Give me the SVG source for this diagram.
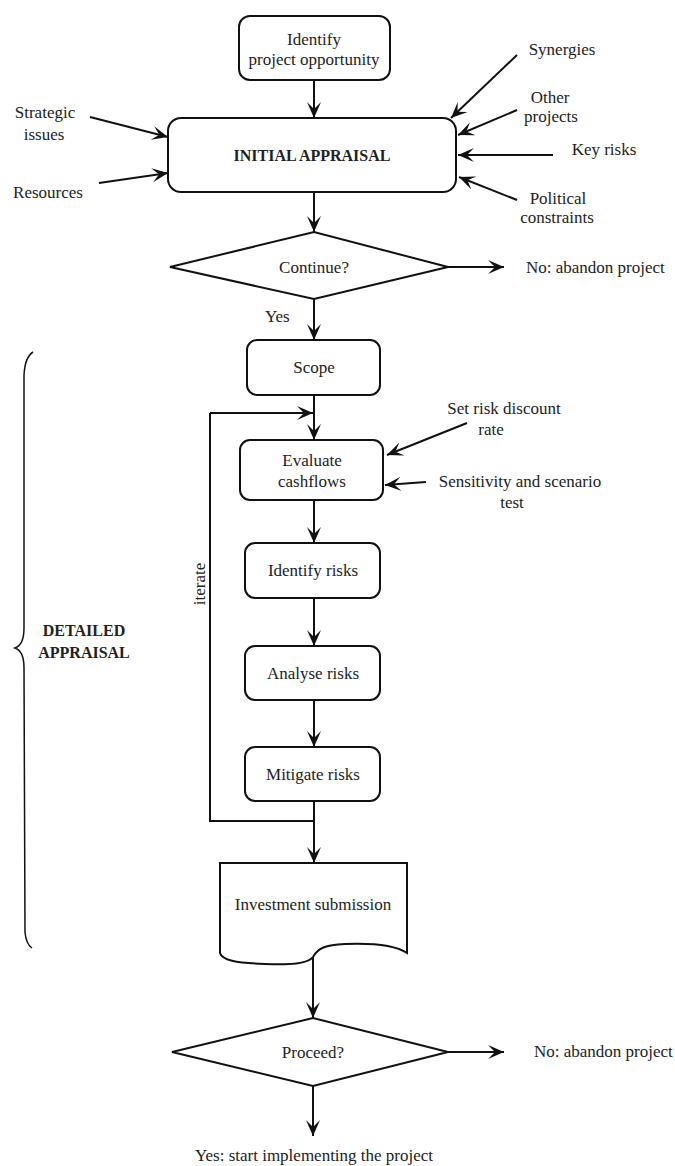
<svg xmlns="http://www.w3.org/2000/svg" width="675" height="1166" viewBox="0 0 675 1166">
<style>
  .box { fill: #fff; stroke: #111; stroke-width: 2; }
  .ln { fill: none; stroke: #111; stroke-width: 2; }
  .arr { fill: none; stroke: #111; stroke-width: 2; marker-end: url(#ah); }
  .t { font-family: "Liberation Serif", "Times New Roman", serif; font-size: 17px; fill: #222; }
  .c { text-anchor: middle; }
  .b { font-weight: bold; font-size: 16px; }
</style>
<defs>
  <marker id="ah" markerUnits="userSpaceOnUse" markerWidth="18" markerHeight="16" refX="16" refY="7" orient="auto">
    <path d="M0,0 L16,7 L0,14 L7,7 Z" fill="#111"/>
  </marker>
</defs>
<rect width="675" height="1166" fill="#fff"/>

<g id="connectors">
  <line class="arr" x1="314" y1="80" x2="314" y2="118"/>
  <line class="arr" x1="90" y1="117" x2="168" y2="137"/>
  <line class="arr" x1="99" y1="183" x2="168" y2="173"/>
  <line class="arr" x1="517" y1="55" x2="451" y2="118"/>
  <line class="arr" x1="517" y1="110" x2="458" y2="135"/>
  <line class="arr" x1="553" y1="155" x2="458" y2="155"/>
  <line class="arr" x1="517" y1="200" x2="459" y2="177"/>
  <line class="arr" x1="314" y1="192" x2="314" y2="232"/>
  <line class="arr" x1="448" y1="267" x2="504" y2="267"/>
  <line class="arr" x1="314" y1="299" x2="314" y2="340"/>
  <line class="arr" x1="314" y1="395" x2="314" y2="440"/>
  <polyline class="ln" points="314,821 210,821 210,413"/>
  <line class="arr" x1="210" y1="413" x2="313" y2="413"/>
  <line class="arr" x1="467" y1="423" x2="387" y2="455"/>
  <line class="arr" x1="426" y1="482" x2="385" y2="485"/>
  <line class="arr" x1="314" y1="500" x2="314" y2="543"/>
  <line class="arr" x1="314" y1="598" x2="314" y2="646"/>
  <line class="arr" x1="314" y1="700" x2="314" y2="747"/>
  <line class="arr" x1="314" y1="801" x2="314" y2="863"/>
  <line class="arr" x1="313" y1="957" x2="313" y2="1018"/>
  <line class="arr" x1="448" y1="1052" x2="504" y2="1052"/>
  <line class="arr" x1="313" y1="1086" x2="313" y2="1136"/>
</g>

<g id="identify-opportunity">
  <rect class="box" x="239" y="16" width="151" height="64" rx="11"/>
  <text class="t c" x="314" y="45">Identify</text>
  <text class="t c" x="314" y="65">project opportunity</text>
</g>

<g id="initial-appraisal">
  <rect class="box" x="168" y="118" width="288" height="74" rx="13"/>
  <text class="t c b" x="312" y="161">INITIAL APPRAISAL</text>
</g>

<g id="input-strategic"><text class="t c" x="45" y="118">Strategic</text><text class="t c" x="44" y="140">issues</text></g>
<g id="input-resources"><text class="t c" x="48" y="198">Resources</text></g>
<g id="input-synergies"><text class="t c" x="562" y="55">Synergies</text></g>
<g id="input-other"><text class="t c" x="550" y="103">Other</text><text class="t c" x="551" y="122">projects</text></g>
<g id="input-keyrisks"><text class="t c" x="604" y="155">Key risks</text></g>
<g id="input-political"><text class="t c" x="558" y="204">Political</text><text class="t c" x="557" y="223">constraints</text></g>

<g id="continue-decision">
  <polygon class="box" points="170,267 314,232 448,267 314,299"/>
  <text class="t c" x="314" y="273">Continue?</text>
</g>
<g id="no-abandon-1"><text class="t" x="526" y="273">No: abandon project</text></g>
<g id="yes-label"><text class="t" x="265" y="322">Yes</text></g>

<g id="scope">
  <rect class="box" x="247" y="340" width="133" height="55" rx="10"/>
  <text class="t c" x="314" y="373">Scope</text>
</g>

<g id="evaluate-cashflows">
  <rect class="box" x="240" y="440" width="143" height="60" rx="10"/>
  <text class="t c" x="312" y="466">Evaluate</text>
  <text class="t c" x="312" y="487">cashflows</text>
</g>
<g id="set-risk-rate"><text class="t c" x="504" y="414">Set risk discount</text><text class="t c" x="491" y="435">rate</text></g>
<g id="sensitivity"><text class="t c" x="520" y="487">Sensitivity and scenario</text><text class="t c" x="512" y="508">test</text></g>

<g id="identify-risks">
  <rect class="box" x="245" y="543" width="135" height="55" rx="10"/>
  <text class="t c" x="313" y="576">Identify risks</text>
</g>
<g id="analyse-risks">
  <rect class="box" x="245" y="646" width="135" height="54" rx="10"/>
  <text class="t c" x="313" y="679">Analyse risks</text>
</g>
<g id="mitigate-risks">
  <rect class="box" x="245" y="747" width="135" height="54" rx="10"/>
  <text class="t c" x="313" y="780">Mitigate risks</text>
</g>
<g id="iterate-label">
  <text class="t c" x="0" y="0" transform="translate(205,584) rotate(-90)">iterate</text>
</g>

<g id="investment-submission">
  <path class="box" d="M220,863 L407,863 L407,953 C395,945 370,943 345,944 C325,945 318,948 313,957 C308,964 290,965 265,964 C235,963 222,960 220,953 Z"/>
  <text class="t c" x="313" y="910">Investment submission</text>
</g>

<g id="proceed-decision">
  <polygon class="box" points="172,1052 313,1018 448,1052 313,1086"/>
  <text class="t c" x="313" y="1058">Proceed?</text>
</g>
<g id="no-abandon-2"><text class="t" x="534" y="1057">No: abandon project</text></g>
<g id="yes-start"><text class="t c" x="314" y="1161">Yes: start implementing the project</text></g>

<g id="detailed-appraisal">
  <path class="ln" style="stroke-width:1.5" d="M33,352 Q25,357 24,375 L24,628 Q24,645 15,648 Q24,651 24,668 L25,932 Q26,944 32,948"/>
  <text class="t c b" x="84" y="636">DETAILED</text>
  <text class="t c b" x="84" y="658">APPRAISAL</text>
</g>
</svg>
